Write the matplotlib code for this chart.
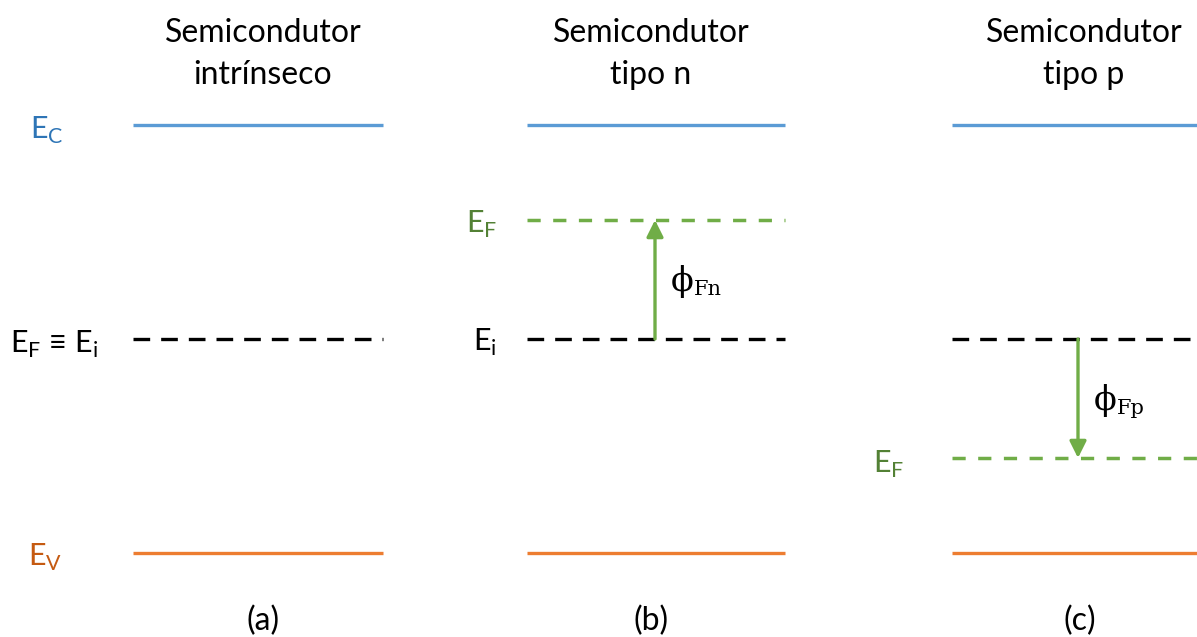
import matplotlib
matplotlib.use("Agg")
import matplotlib.pyplot as plt

plt.rcParams['font.family'] = ['Lato', 'DejaVu Sans']
plt.rcParams['mathtext.fontset'] = 'custom'
plt.rcParams['mathtext.rm'] = 'Lato'

# energy levels (pixel rows of the picture, top = 0)
panels = ['(a)', '(b)', '(c)']
title_top = ['Semicondutor', 'Semicondutor', 'Semicondutor']
title_bottom = ['intrínseco', 'tipo n', 'tipo p']
x_start = [133, 527, 952]
x_end = [383, 785, 1197]
e_c = [125, 125, 125]
e_i = [339, 339, 339]
e_f = [339, 220, 458]
e_v = [553, 553, 553]
arrow_x = [None, 655, 1078]
phi_sub = [None, 'Fn', 'Fp']

blue = '#5B9BD5'
orange = '#ED7D31'
green = '#70AD47'

fig = plt.figure(figsize=(11.97, 6.37), dpi=100)
ax = fig.add_axes([0, 0, 1, 1])
ax.set_xlim(0, 1197)
ax.set_ylim(637, 0)
ax.axis('off')

title_x = [263, 651, 1084]
label_x = [263, 651, 1080]

for i in range(3):
    x0, x1 = x_start[i], x_end[i]
    ax.plot([x0, x1], [e_c[i], e_c[i]], color=blue, lw=2.4, solid_capstyle='butt')
    ax.plot([x0, x1], [e_v[i], e_v[i]], color=orange, lw=2.4, solid_capstyle='butt')
    ax.plot([x0, x1], [e_i[i], e_i[i]], color='black', lw=2.4,
            dashes=(5, 3.3))
    if e_f[i] != e_i[i]:
        ax.plot([x0, x1], [e_f[i], e_f[i]], color=green, lw=2.5,
                dashes=(3.8, 3.6))
        ax.annotate('', xy=(arrow_x[i], e_f[i]), xytext=(arrow_x[i], e_i[i]),
                    arrowprops=dict(arrowstyle='-|>,head_length=1.0,head_width=0.5',
                                    color=green, lw=2.4, shrinkA=0, shrinkB=0))
        ym = (e_f[i] + e_i[i]) / 2
        ax.text(arrow_x[i] + 16, ym + 2, 'ϕ', fontsize=24, family='DejaVu Serif',
                va='center', ha='left')
        ax.text(arrow_x[i] + 39, ym + 10, phi_sub[i], fontsize=15,
                family='DejaVu Serif', va='center', ha='left')
    ax.text(title_x[i], 33, title_top[i], fontsize=23, ha='center', va='center')
    ax.text(title_x[i], 75, title_bottom[i], fontsize=23, ha='center', va='center')
    ax.text(label_x[i], 621, panels[i], fontsize=23, ha='center', va='center')

# side labels
ax.text(30, 130, r'E$_\mathrm{C}$', color='#2E75B6', fontsize=22, va='center', ha='left')
ax.text(28, 557, r'E$_\mathrm{V}$', color='#C55A11', fontsize=22, va='center', ha='left')
ax.text(10, 344, r'E$_\mathrm{F}$ ≡ E$_\mathrm{i}$', color='black', fontsize=22,
        va='center', ha='left')
ax.text(466, 224, r'E$_\mathrm{F}$', color='#538135', fontsize=22, va='center', ha='left')
ax.text(473, 342, r'E$_\mathrm{i}$', color='black', fontsize=22, va='center', ha='left')
ax.text(873, 464, r'E$_\mathrm{F}$', color='#538135', fontsize=22, va='center', ha='left')

fig.savefig('out.png', dpi=100)
